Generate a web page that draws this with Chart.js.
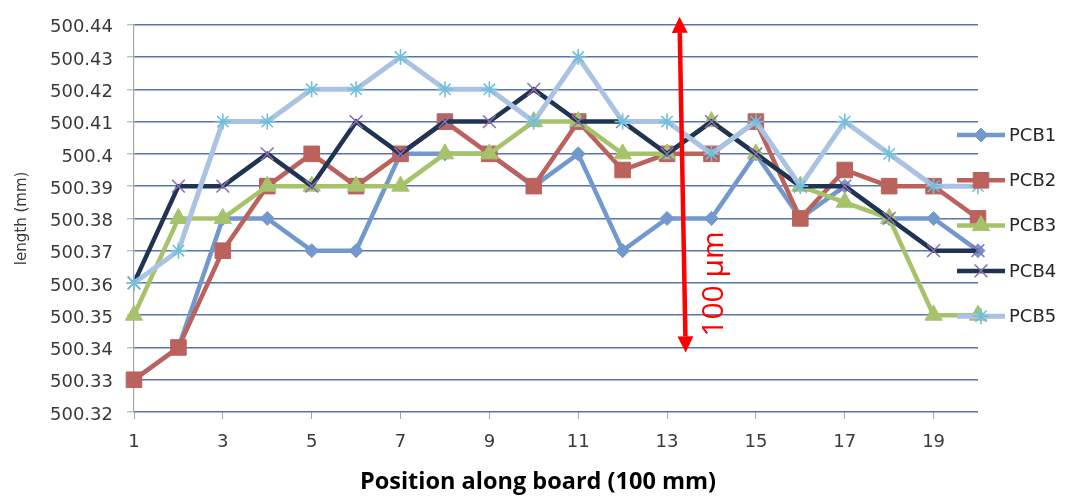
<!DOCTYPE html>
<html>
<head>
<meta charset="utf-8">
<script src="https://cdn.jsdelivr.net/npm/chart.js"></script>
<style>
  html, body { margin: 0; padding: 0; background: #ffffff; }
  #wrap { position: relative; width: 1074px; height: 496px; }
</style>
</head>
<body>
<div id="wrap"><canvas id="chart"></canvas></div>
<script>
// Board positions (x categories)
const positions = ['1','2','3','4','5','6','7','8','9','10','11','12','13','14','15','16','17','18','19','20'];

// Measured length per board (mm)
const pcb1 = [500.33, 500.34, 500.38, 500.38, 500.37, 500.37, 500.40, 500.40, 500.40, 500.39,
              500.40, 500.37, 500.38, 500.38, 500.40, 500.38, 500.39, 500.38, 500.38, 500.37];
const pcb2 = [500.33, 500.34, 500.37, 500.39, 500.40, 500.39, 500.40, 500.41, 500.40, 500.39,
              500.41, 500.395, 500.40, 500.40, 500.41, 500.38, 500.395, 500.39, 500.39, 500.38];
const pcb3 = [500.35, 500.38, 500.38, 500.39, 500.39, 500.39, 500.39, 500.40, 500.40, 500.41,
              500.41, 500.40, 500.40, 500.41, 500.40, 500.39, 500.385, 500.38, 500.35, 500.35];
const pcb4 = [500.36, 500.39, 500.39, 500.40, 500.39, 500.41, 500.40, 500.41, 500.41, 500.42,
              500.41, 500.41, 500.40, 500.41, 500.40, 500.39, 500.39, 500.38, 500.37, 500.37];
const pcb5 = [500.36, 500.37, 500.41, 500.41, 500.42, 500.42, 500.43, 500.42, 500.42, 500.41,
              500.43, 500.41, 500.41, 500.40, 500.41, 500.39, 500.41, 500.40, 500.39, 500.39];

// Y axis tick values
const yTicks = [500.32, 500.33, 500.34, 500.35, 500.36, 500.37, 500.38, 500.39, 500.40, 500.41, 500.42, 500.43, 500.44];

// 100 µm span marked by the red arrow (mm)
const spanRange = [500.34, 500.44];
const spanLabel = '100 µm';

const xTitle = 'Position along board (100 mm)';
const yTitle = 'length (mm)';

const TICK_FONT = "'DejaVu Sans', sans-serif";
const TEXT_COLOR = '#3a3a3a';

function series(label, data, color, style) {
  return Object.assign({
    label: label,
    data: data,
    borderColor: color,
    backgroundColor: color,
    borderWidth: 4.5,
    tension: 0,
    fill: false,
    pointBackgroundColor: color,
    pointBorderColor: color,
    pointBorderWidth: 1,
    pointHoverRadius: 0
  }, style);
}

const datasets = [
  series('PCB1', pcb1, '#7398cd', { pointStyle: 'rectRot', pointRadius: 7, order: 5 }),
  series('PCB2', pcb2, '#bb625d', { pointStyle: 'rect', pointRadius: 11, order: 4 }),
  series('PCB3', pcb3, '#a6c36c', { pointStyle: 'triangle', pointRadius: 10, order: 3 }),
  series('PCB4', pcb4, '#1f3352', { pointStyle: 'crossRot', pointRadius: 9,
    pointBorderColor: '#8a6fb0', pointBorderWidth: 1.6, order: 2 }),
  series('PCB5', pcb5, '#abc3e3', { pointStyle: 'star', pointRadius: 8, borderWidth: 5,
    pointBorderColor: '#6fbfdb', pointBorderWidth: 1.6, order: 1 })
];

function drawMarker(ctx, ds, x, y) {
  ctx.save();
  ctx.fillStyle = ds.pointBackgroundColor;
  ctx.strokeStyle = ds.pointBorderColor;
  ctx.lineWidth = ds.pointBorderWidth;
  Chart.helpers.drawPoint(ctx, {
    pointStyle: ds.pointStyle, radius: ds.pointRadius, borderWidth: ds.pointBorderWidth, rotation: 0
  }, x, y);
  ctx.restore();
}

// Arrow, its label, the x axis title and the legend
const overlay = {
  id: 'overlay',
  afterDraw(chart) {
    const ctx = chart.ctx;
    const xs = chart.scales.x, ys = chart.scales.y;

    // vertical double arrow spanning 100 µm
    const xTop = xs.getPixelForValue(12.28), xBot = xs.getPixelForValue(12.42);
    const yTop = ys.getPixelForValue(spanRange[1]) - 8;
    const yBot = ys.getPixelForValue(spanRange[0]) + 5;
    const headL = 16, headW = 8;
    const ang = Math.atan2(yBot - yTop, xBot - xTop);
    const ux = Math.cos(ang), uy = Math.sin(ang);
    ctx.save();
    ctx.strokeStyle = '#ff0000';
    ctx.fillStyle = '#ff0000';
    ctx.lineWidth = 4.5;
    ctx.beginPath();
    ctx.moveTo(xTop + ux * headL, yTop + uy * headL);
    ctx.lineTo(xBot - ux * headL, yBot - uy * headL);
    ctx.stroke();
    const head = (tx, ty, dir) => {
      const bx = tx - dir * ux * headL, by = ty - dir * uy * headL;
      ctx.beginPath();
      ctx.moveTo(tx, ty);
      ctx.lineTo(bx - uy * headW, by + ux * headW);
      ctx.lineTo(bx + uy * headW, by - ux * headW);
      ctx.closePath();
      ctx.fill();
    };
    head(xTop, yTop, -1);
    head(xBot, yBot, 1);

    // rotated span label
    ctx.translate(xBot + 29, ys.getPixelForValue(500.36) + 1);
    ctx.rotate(-Math.PI / 2);
    ctx.font = "30px 'Open Sans', sans-serif";
    ctx.textAlign = 'center';
    ctx.textBaseline = 'middle';
    ctx.fillText(spanLabel, 0, 0);
    ctx.restore();

    // x axis title
    ctx.save();
    ctx.font = "bold 23.5px 'Open Sans', sans-serif";
    ctx.fillStyle = '#000000';
    ctx.textAlign = 'center';
    ctx.textBaseline = 'alphabetic';
    ctx.fillText(xTitle, 538, 489);
    ctx.restore();

    // legend
    const legendTop = 135, legendStep = 45.3;
    chart.data.datasets.forEach((ds, i) => {
      const ly = legendTop + i * legendStep;
      ctx.save();
      ctx.strokeStyle = ds.borderColor;
      ctx.lineWidth = ds.borderWidth;
      ctx.beginPath();
      ctx.moveTo(957, ly);
      ctx.lineTo(1005, ly);
      ctx.stroke();
      ctx.restore();
      drawMarker(ctx, ds, 981, ly);
      ctx.save();
      ctx.font = "18px " + TICK_FONT;
      ctx.fillStyle = '#262626';
      ctx.textAlign = 'left';
      ctx.textBaseline = 'middle';
      ctx.fillText(ds.label, 1009, ly + 1);
      ctx.restore();
    });
  }
};

new Chart(document.getElementById('chart'), {
  type: 'line',
  data: { labels: positions, datasets: datasets },
  plugins: [overlay],
  options: {
    responsive: true,
    maintainAspectRatio: false,
    animation: false,
    events: [],
    layout: { padding: { top: 15, right: 96, left: 0, bottom: 0 } },
    plugins: {
      legend: { display: false },
      tooltip: { enabled: false },
      title: { display: false }
    },
    scales: {
      x: {
        type: 'category',
        offset: false,
        grid: {
          display: true,
          drawOnChartArea: false,
          drawTicks: true,
          tickLength: 7,
          tickColor: '#a6a6a6',
          tickWidth: 1
        },
        border: { display: false },
        ticks: {
          autoSkip: false,
          maxRotation: 0,
          padding: 13,
          color: TEXT_COLOR,
          font: { family: TICK_FONT, size: 18 },
          callback: (v, i) => (i % 2 === 0 ? positions[i] : null)
        },
        afterFit: (s) => { s.height = 84; }
      },
      y: {
        type: 'linear',
        min: yTicks[0],
        max: yTicks[yTicks.length - 1],
        afterBuildTicks: (s) => { s.ticks = yTicks.map(v => ({ value: v })); },
        grid: {
          color: '#5775ab',
          lineWidth: 1.6,
          drawTicks: true,
          tickLength: 7,
          tickColor: '#a6a6a6',
          tickWidth: 1
        },
        border: { display: true, color: '#a6a6a6', width: 1.2 },
        ticks: {
          padding: 14,
          labelOffset: 3,
          color: TEXT_COLOR,
          font: { family: TICK_FONT, size: 18 },
          callback: (v) => String(+Number(v).toFixed(3))
        },
        title: {
          display: true,
          text: yTitle,
          color: TEXT_COLOR,
          font: { family: TICK_FONT, size: 15 },
          padding: { top: 13, bottom: 0 }
        },
        afterFit: (s) => { s.width = 134; }
      }
    }
  }
});
</script>
</body>
</html>
